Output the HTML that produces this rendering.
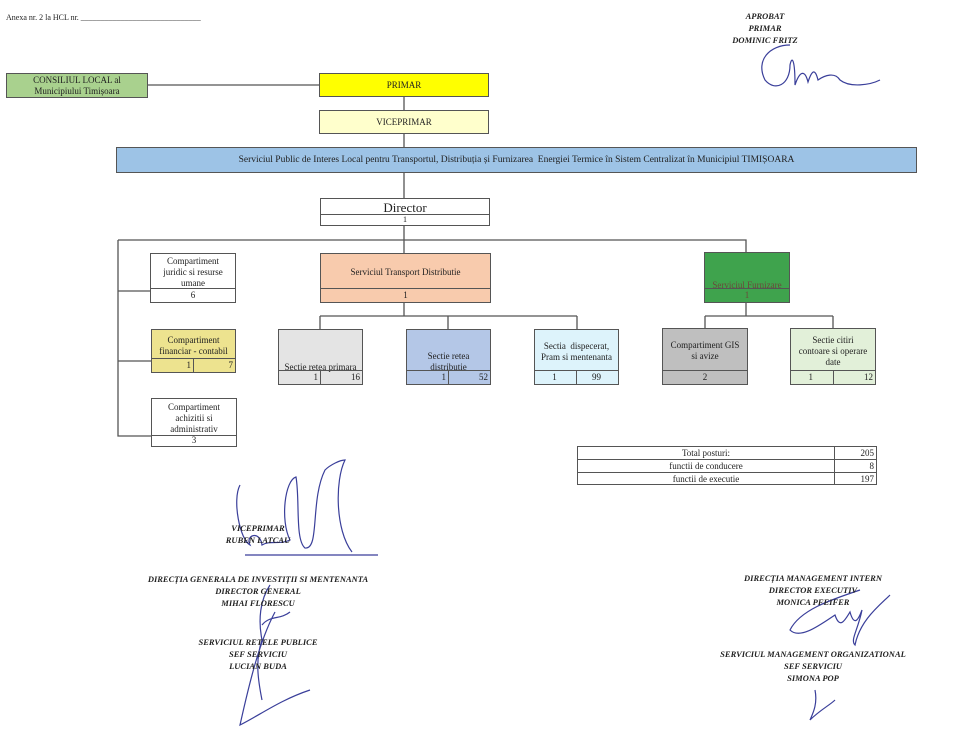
<!DOCTYPE html>
<html><head><meta charset="utf-8">
<style>
body{margin:0;width:960px;height:756px;background:#fff;position:relative;overflow:hidden;font-family:"Liberation Serif",serif;color:#222}
.b{position:absolute;border:1.3px solid #555;box-sizing:border-box;font-size:9px;text-align:center;line-height:11px}
.b .t{position:absolute;left:0;right:0;top:0;display:flex;align-items:center;justify-content:center;padding:0 2px}
.b .r{position:absolute;left:0;right:0;bottom:0;height:13px;border-top:1.3px solid #555;line-height:12px;font-size:9px;display:flex}
.r span{flex:1;text-align:right;padding-right:2px}
.r span+span{border-left:1.3px solid #555}
.s{position:absolute;font-style:italic;font-weight:bold;font-size:8.5px;text-align:center;line-height:12px;white-space:nowrap;transform:translateX(-50%)}
</style></head><body>
<div style="position:absolute;left:6px;top:13px;font-size:8px">Anexa nr. 2 la HCL nr. ______________________________</div>
<div class="s" style="left:765px;top:10px">APROBAT<br>PRIMAR<br>DOMINIC FRITZ</div>

<svg width="960" height="756" style="position:absolute;left:0;top:0" fill="none" stroke="#555" stroke-width="1.3">
<path d="M148 85H319M404 97V110M404 134V147M404 173V198M404 226V253M118 240H746V252M118 240V436H151M118 291H150M118 361H151M404 303V316M320 316H577M320 316V329M448 316V329M577 316V329M746 303V316M705 316H833M705 316V328M833 316V328"/>
<g stroke="#3a3f9a" stroke-width="1.2">
<path d="M790 45C770 45 755 60 765 80C775 92 790 85 790 65C792 55 795 60 795 85C800 70 805 70 808 82C812 70 815 68 818 80C825 75 835 72 840 80C850 88 870 85 880 80"/>
<path d="M240 485C232 500 240 540 250 545C245 535 260 530 262 545C270 540 280 545 290 540C280 520 285 480 296 477C300 500 295 540 305 548C320 550 310 500 325 470C330 465 340 460 345 460C335 480 335 530 352 552M245 555H378"/>
<path d="M270 585C260 600 258 620 262 640C255 660 258 680 262 700M262 625C270 615 280 620 290 612M275 612C260 640 250 680 240 725C260 715 280 700 310 690"/>
<path d="M860 590C830 600 800 610 790 630C800 640 820 625 835 615C840 630 845 620 850 612C855 630 860 615 862 610C858 630 850 640 855 645C860 620 880 605 890 595M815 690C818 705 812 715 810 720C820 710 830 705 835 700"/>
</g>
</svg>

<div class="b" style="left:6px;top:73px;width:142px;height:25px;background:#a9d18e"><div class="t" style="height:23px">CONSILIUL LOCAL al<br>Municipiului Timișoara</div></div>
<div class="b" style="left:319px;top:73px;width:170px;height:24px;background:#ffff00"><div class="t" style="height:22px">PRIMAR</div></div>
<div class="b" style="left:319px;top:110px;width:170px;height:24px;background:#ffffcc"><div class="t" style="height:22px">VICEPRIMAR</div></div>
<div class="b" style="left:116px;top:147px;width:801px;height:26px;background:#9dc3e6"><div class="t" style="height:24px;font-size:9.5px">Serviciul Public de Interes Local pentru Transportul, Distribuția și Furnizarea &nbsp;Energiei Termice în Sistem Centralizat în Municipiul TIMIȘOARA</div></div>
<div class="b" style="left:320px;top:198px;width:170px;height:28px;background:#fff"><div class="t" style="height:17px;font-size:13px">Director</div><div class="r" style="height:10px;line-height:9px;font-size:8px;justify-content:center">1</div></div>

<div class="b" style="left:150px;top:253px;width:86px;height:50px;background:#fff"><div class="t" style="height:37px">Compartiment<br>juridic si resurse<br>umane</div><div class="r" style="justify-content:center">6</div></div>
<div class="b" style="left:151px;top:329px;width:85px;height:44px;background:#ede38f"><div class="t" style="height:32px">Compartiment<br>financiar - contabil</div><div class="r"><span>1</span><span>7</span></div></div>
<div class="b" style="left:151px;top:398px;width:86px;height:49px;background:#fff"><div class="t" style="height:38px">Compartiment<br>achizitii si<br>administrativ</div><div class="r" style="height:10px;line-height:9px;justify-content:center">3</div></div>

<div class="b" style="left:320px;top:253px;width:171px;height:50px;background:#f8cbad"><div class="t" style="height:37px">Serviciul Transport Distributie</div><div class="r" style="justify-content:center">1</div></div>
<div class="b" style="left:278px;top:329px;width:85px;height:56px;background:#e4e4e4"><div class="t" style="height:43px;align-items:flex-end">Sectie retea primara</div><div class="r"><span>1</span><span>16</span></div></div>
<div class="b" style="left:406px;top:329px;width:85px;height:56px;background:#b4c7e7"><div class="t" style="height:43px;align-items:flex-end">Sectie retea<br>distributie</div><div class="r"><span>1</span><span>52</span></div></div>
<div class="b" style="left:534px;top:329px;width:85px;height:56px;background:#ddf3fb"><div class="t" style="height:43px">Sectia &nbsp;dispecerat,<br>Pram si mentenanta</div><div class="r"><span style="text-align:center">1</span><span style="text-align:center">99</span></div></div>

<div class="b" style="left:704px;top:252px;width:86px;height:51px;background:#3fa34d;color:#6a4a3a"><div class="t" style="height:38px;align-items:flex-end">Serviciul Furnizare</div><div class="r" style="justify-content:center">1</div></div>
<div class="b" style="left:662px;top:328px;width:86px;height:57px;background:#bfbfbf"><div class="t" style="height:44px">Compartiment GIS<br>si avize</div><div class="r" style="justify-content:center">2</div></div>
<div class="b" style="left:790px;top:328px;width:86px;height:57px;background:#e2f0d9"><div class="t" style="height:44px">Sectie citiri<br>contoare si operare<br>date</div><div class="r"><span style="text-align:center">1</span><span>12</span></div></div>

<div class="b" style="left:577px;top:446px;width:300px;height:39px;background:#fff">
<div style="position:absolute;left:0;top:0;width:256px;height:12px;line-height:12px;border-bottom:1.3px solid #555">Total posturi:</div>
<div style="position:absolute;left:0;top:13px;width:256px;height:12px;line-height:12px;border-bottom:1.3px solid #555">functii de conducere</div>
<div style="position:absolute;left:0;top:26px;width:256px;height:12px;line-height:12px">functii de executie</div>
<div style="position:absolute;left:256px;top:0;right:0;height:38px;border-left:1.3px solid #555;text-align:right">
<div style="height:12px;line-height:12px;border-bottom:1.3px solid #555;padding-right:2px">205</div>
<div style="height:12px;line-height:12px;border-bottom:1.3px solid #555;padding-right:2px">8</div>
<div style="height:12px;line-height:12px;padding-right:2px">197</div></div>
</div>

<div class="s" style="left:258px;top:522px">VICEPRIMAR<br>RUBEN LATCAU</div>
<div class="s" style="left:258px;top:573px">DIRECȚIA GENERALA DE INVESTIȚII SI MENTENANTA<br>DIRECTOR GENERAL<br>MIHAI FLORESCU</div>
<div class="s" style="left:258px;top:636px">SERVICIUL RETELE PUBLICE<br>SEF SERVICIU<br>LUCIAN BUDA</div>
<div class="s" style="left:813px;top:572px">DIRECȚIA MANAGEMENT INTERN<br>DIRECTOR EXECUTIV<br>MONICA PFEIFER</div>
<div class="s" style="left:813px;top:648px">SERVICIUL MANAGEMENT ORGANIZATIONAL<br>SEF SERVICIU<br>SIMONA POP</div>
</body></html>
